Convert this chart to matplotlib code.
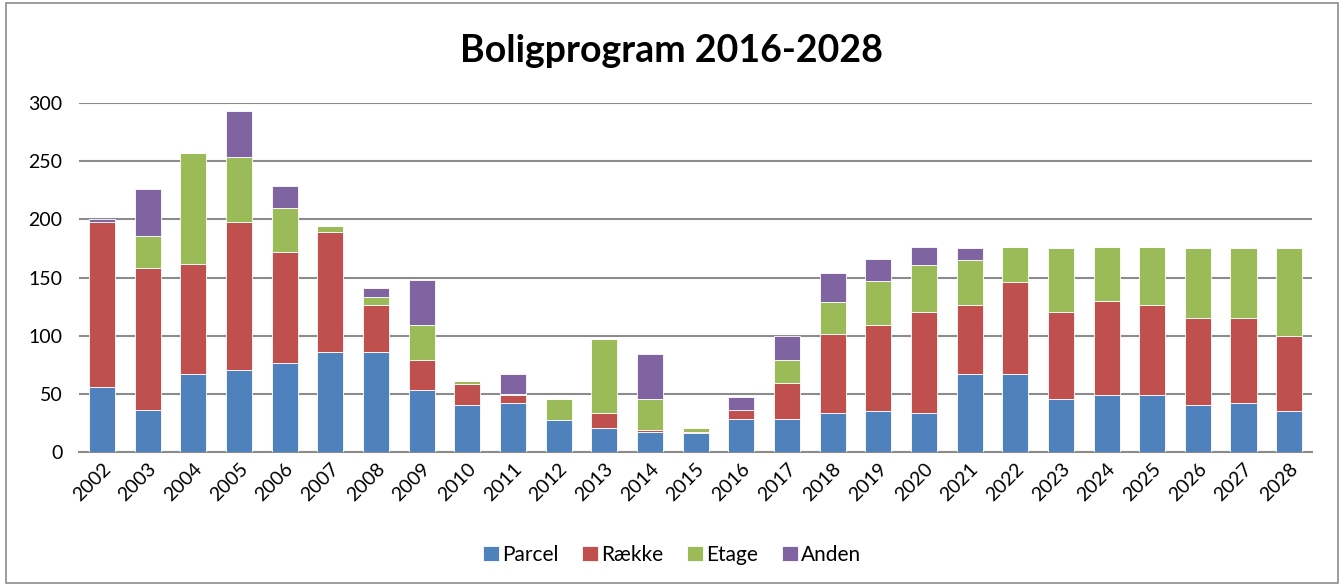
import matplotlib.pyplot as plt
from matplotlib.patches import Rectangle
import numpy as np

plt.rcParams['font.family'] = ['Lato', 'DejaVu Sans']

years = [str(y) for y in range(2002, 2029)]
parcel = [56, 36, 67, 70, 76, 86, 86, 53, 40, 42, 27, 20, 17, 16, 28, 28, 33, 35,
          33, 67, 67, 45, 49, 49, 40, 42, 35]
raekke = [142, 122, 95, 128, 96, 103, 40, 26, 18, 7, 0, 13, 2, 1, 8, 31, 68, 74,
          87, 59, 79, 75, 81, 77, 75, 73, 65]
etage = [0, 28, 95, 56, 38, 5, 7, 30, 3, 1, 18, 64, 26, 3, 0, 20, 28, 38,
         41, 39, 30, 55, 46, 50, 60, 60, 75]
anden = [2, 40, 0, 39, 19, 0, 8, 39, 0, 17, 0, 0, 39, 0, 11, 21, 25, 19,
         15, 10, 0, 0, 0, 0, 0, 0, 0]

series = [("Parcel", parcel, "#4F81BD"),
          ("Række", raekke, "#C0504D"),
          ("Etage", etage, "#9BBB59"),
          ("Anden", anden, "#8064A2")]

fig = plt.figure(figsize=(13.44, 5.86), dpi=100)
ax = fig.add_axes([0.0588, 0.2292, 0.9174, 0.5945])

x = np.arange(len(years))
bottom = np.zeros(len(years))
for name, vals, color in series:
    vals = np.array(vals, dtype=float)
    ax.bar(x, vals, 0.57, bottom=bottom, color=color, label=name,
           edgecolor='white', linewidth=0.6, zorder=3)
    bottom += vals

ax.set_xlim(-0.5, len(years) - 0.5)
ax.set_ylim(0, 300)
ax.set_yticks(range(0, 301, 50))
ax.yaxis.grid(True, color='#8c8c8c', linewidth=1.5, zorder=0)
ax.set_axisbelow(True)
for s in ['left', 'right', 'top']:
    ax.spines[s].set_visible(False)
ax.spines['bottom'].set_color('#8c8c8c')
ax.spines['bottom'].set_linewidth(1.5)
ax.tick_params(axis='y', length=0, pad=12, labelsize=14)
ax.tick_params(axis='x', length=0, pad=6, labelsize=14)
ax.set_xticks(x)
ax.set_xticklabels(years, rotation=45, ha='right', rotation_mode='anchor')

fig.text(0.5, 0.913, "Boligprogram 2016-2028", ha='center', va='center',
         fontsize=27, fontweight='bold')

ax.legend(loc='center', bbox_to_anchor=(0.5, 0.053), bbox_transform=fig.transFigure,
          ncol=4, frameon=False, fontsize=15, handlelength=0.75, handleheight=0.75,
          handletextpad=0.15, columnspacing=1.15)

fig.patches.append(Rectangle((0.0045, 0.005), 0.991, 0.99, transform=fig.transFigure,
                             fill=False, edgecolor='#8c8c8c', linewidth=1.2))

fig.savefig("out.png", dpi=100)
